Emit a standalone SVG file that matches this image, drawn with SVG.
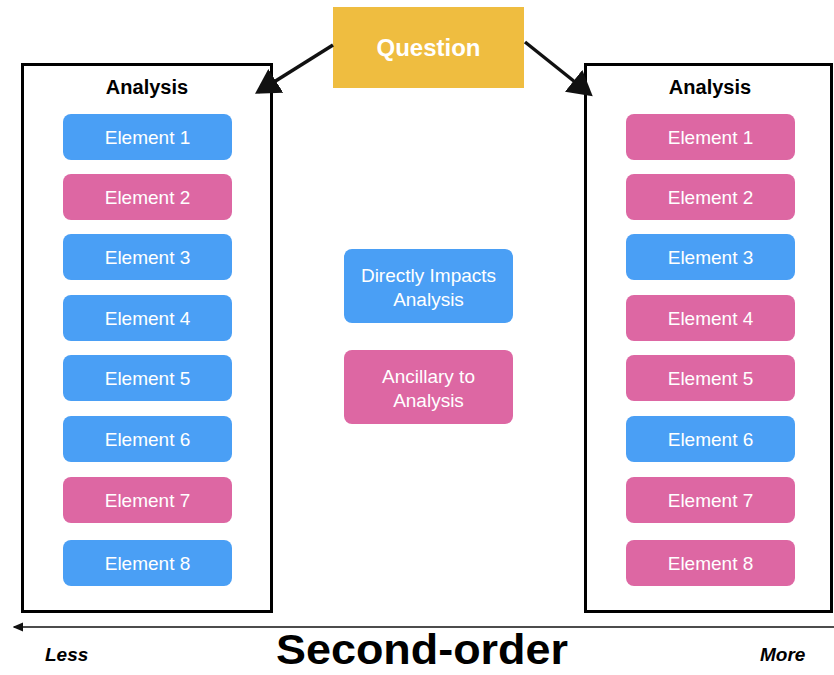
<svg xmlns="http://www.w3.org/2000/svg" width="834" height="675" viewBox="0 0 834 675">
<style>
.frame{fill:#fff;stroke:#000;stroke-width:3}
.b{fill:#4A9FF5}
.p{fill:#DD67A3}
.lbl{font-family:"Helvetica","Liberation Sans",Arial,sans-serif;font-size:19px;fill:#fff;text-anchor:middle}
.ttl{font-family:"Liberation Sans",Arial,sans-serif;font-size:20px;font-weight:bold;fill:#000;text-anchor:middle}
.conn{stroke:#111;stroke-width:3.5;fill:none}
</style>
<defs>
<marker id="ah" markerWidth="8" markerHeight="8" refX="6" refY="4" orient="auto" markerUnits="strokeWidth">
<path d="M0,0 L7,4 L0,8 Z" fill="#111"/>
</marker>
<marker id="la" markerWidth="8" markerHeight="8" refX="1" refY="4" orient="auto" markerUnits="strokeWidth">
<path d="M7,1 L0,4 L7,7 Z" fill="#111"/>
</marker>
</defs>
<rect width="834" height="675" fill="#fff"/>
<g id="left-analysis">
<rect class="frame" x="22.5" y="64.5" width="249" height="547"/>
<text class="ttl" x="147" y="94">Analysis</text>
</g>
<g id="right-analysis">
<rect class="frame" x="585.5" y="64.5" width="246" height="547"/>
<text class="ttl" x="710" y="94">Analysis</text>
</g>
<g id="question">
<rect x="333" y="7" width="191" height="81" fill="#EFBD40"/>
<text x="428.5" y="56" font-family="Liberation Sans,Arial,sans-serif" font-size="24" font-weight="bold" fill="#fff" text-anchor="middle">Question</text>
</g>
<g id="L1"><rect class="b" x="63" y="114" width="169" height="46" rx="8"/><text class="lbl" x="147.5" y="144">Element 1</text></g>
<g id="L2"><rect class="p" x="63" y="174" width="169" height="46" rx="8"/><text class="lbl" x="147.5" y="204">Element 2</text></g>
<g id="L3"><rect class="b" x="63" y="234" width="169" height="46" rx="8"/><text class="lbl" x="147.5" y="264">Element 3</text></g>
<g id="L4"><rect class="b" x="63" y="295" width="169" height="46" rx="8"/><text class="lbl" x="147.5" y="325">Element 4</text></g>
<g id="L5"><rect class="b" x="63" y="355" width="169" height="46" rx="8"/><text class="lbl" x="147.5" y="385">Element 5</text></g>
<g id="L6"><rect class="b" x="63" y="416" width="169" height="46" rx="8"/><text class="lbl" x="147.5" y="446">Element 6</text></g>
<g id="L7"><rect class="p" x="63" y="477" width="169" height="46" rx="8"/><text class="lbl" x="147.5" y="507">Element 7</text></g>
<g id="L8"><rect class="b" x="63" y="540" width="169" height="46" rx="8"/><text class="lbl" x="147.5" y="570">Element 8</text></g>
<g id="R1"><rect class="p" x="626" y="114" width="169" height="46" rx="8"/><text class="lbl" x="710.5" y="144">Element 1</text></g>
<g id="R2"><rect class="p" x="626" y="174" width="169" height="46" rx="8"/><text class="lbl" x="710.5" y="204">Element 2</text></g>
<g id="R3"><rect class="b" x="626" y="234" width="169" height="46" rx="8"/><text class="lbl" x="710.5" y="264">Element 3</text></g>
<g id="R4"><rect class="p" x="626" y="295" width="169" height="46" rx="8"/><text class="lbl" x="710.5" y="325">Element 4</text></g>
<g id="R5"><rect class="p" x="626" y="355" width="169" height="46" rx="8"/><text class="lbl" x="710.5" y="385">Element 5</text></g>
<g id="R6"><rect class="b" x="626" y="416" width="169" height="46" rx="8"/><text class="lbl" x="710.5" y="446">Element 6</text></g>
<g id="R7"><rect class="p" x="626" y="477" width="169" height="46" rx="8"/><text class="lbl" x="710.5" y="507">Element 7</text></g>
<g id="R8"><rect class="p" x="626" y="540" width="169" height="46" rx="8"/><text class="lbl" x="710.5" y="570">Element 8</text></g>
<g id="legend-direct"><rect class="b" x="344" y="249" width="169" height="74" rx="8"/><text class="lbl" x="428.5" y="282">Directly Impacts</text><text class="lbl" x="428.5" y="306">Analysis</text></g>
<g id="legend-ancillary"><rect class="p" x="344" y="350" width="169" height="74" rx="8"/><text class="lbl" x="428.5" y="383">Ancillary to</text><text class="lbl" x="428.5" y="407">Analysis</text></g>
<g id="connectors">
<line class="conn" x1="333" y1="45" x2="258" y2="92" marker-end="url(#ah)"/>
<line class="conn" x1="525" y1="42" x2="590" y2="94" marker-end="url(#ah)"/>
<line x1="14" y1="627" x2="834" y2="627" stroke="#111" stroke-width="1.5" marker-start="url(#la)"/>
</g>
<g id="axis-labels" font-family="Liberation Sans,Arial,sans-serif" font-weight="bold" fill="#000">
<text x="45" y="661" font-size="19" font-style="italic">Less</text>
<text x="760" y="661" font-size="19" font-style="italic">More</text>
<text x="422" y="664" font-size="42" text-anchor="middle" textLength="292" lengthAdjust="spacingAndGlyphs">Second-order</text>
</g>
</svg>
